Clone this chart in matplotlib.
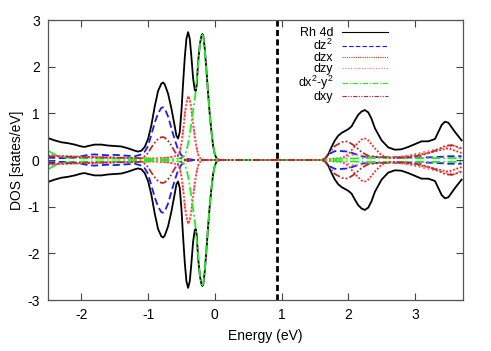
import matplotlib
matplotlib.use("Agg")
import matplotlib.pyplot as plt
import numpy as np

plt.rcParams['font.family'] = ['Liberation Sans', 'DejaVu Sans']
plt.rcParams['mathtext.fontset'] = 'custom'
plt.rcParams['mathtext.rm'] = 'Liberation Sans'
plt.rcParams['mathtext.it'] = 'Liberation Sans'
plt.rcParams['axes.unicode_minus'] = False

# ---------------- data (spin-up; spin-down drawn mirrored) ----------------
# nan = no curve drawn across the empty gap
rh4d_e = [-2.5, -2.4, -2.3, -2.2, -2.1, -2.0, -1.95, -1.9, -1.8, -1.7, -1.6, -1.5, -1.4, -1.3, -1.2, -1.15,
          -1.1, -1.05, -1.0, -0.95, -0.9, -0.85, -0.8, -0.775, -0.75, -0.7, -0.65, -0.6, -0.575, -0.55,
          -0.525, -0.5, -0.475, -0.45, -0.425, -0.4, -0.375, -0.35, -0.325, -0.3, -0.285, -0.27, -0.25,
          -0.225, -0.2, -0.185, -0.17, -0.15, -0.125, -0.1, -0.075, -0.05, -0.025, 0.0, 0.025, 0.05, 0.1,
          1.0, 1.6, 1.65, 1.7, 1.75, 1.8, 1.85, 1.9, 2.0, 2.05, 2.1, 2.15, 2.2, 2.25, 2.3, 2.35, 2.4, 2.5,
          2.6, 2.7, 2.8, 2.9, 3.0, 3.1, 3.2, 3.3, 3.35, 3.4, 3.45, 3.5, 3.55, 3.6, 3.7]
rh4d_v = [0.47, 0.42, 0.38, 0.36, 0.33, 0.29, 0.28, 0.30, 0.33, 0.33, 0.31, 0.30, 0.29, 0.25, 0.20, 0.18,
          0.20, 0.28, 0.45, 0.75, 1.15, 1.48, 1.64, 1.66, 1.62, 1.42, 1.10, 0.72, 0.52, 0.46,
          0.60, 1.05, 1.65, 2.20, 2.60, 2.74, 2.60, 2.20, 1.75, 1.50, 1.48, 1.62, 2.10,
          2.47, 2.66, 2.70, 2.64, 2.38, 1.92, 1.42, 0.97, 0.60, 0.30, 0.12, 0.04, 0.01, 0.0,
          np.nan, 0.0, 0.01, 0.12, 0.28, 0.42, 0.52, 0.58, 0.66, 0.72, 0.85, 0.97, 1.04, 1.07, 1.02, 0.88, 0.68, 0.42,
          0.27, 0.22, 0.23, 0.28, 0.34, 0.40, 0.40, 0.45, 0.60, 0.75, 0.82, 0.80, 0.70, 0.60, 0.42]

dz2_e = [-2.5, -2.3, -2.1, -2.0, -1.9, -1.8, -1.7, -1.6, -1.5, -1.4, -1.3, -1.2, -1.1, -1.05, -1.0, -0.95,
         -0.9, -0.85, -0.8, -0.775, -0.75, -0.7, -0.65, -0.6, -0.55, -0.5, -0.45, -0.4, -0.3, 1.0, 1.6,
         1.65, 1.7, 1.8, 1.9, 2.0, 2.1, 2.2, 2.3, 2.5, 2.8, 3.0, 3.3, 3.5, 3.7]
dz2_v = [0.05, 0.04, 0.05, 0.08, 0.11, 0.12, 0.11, 0.10, 0.11, 0.10, 0.09, 0.08, 0.12, 0.18, 0.30, 0.55,
         0.80, 1.00, 1.12, 1.13, 1.10, 0.93, 0.68, 0.43, 0.22, 0.10, 0.04, 0.02, 0.0, np.nan, 0.0,
         0.02, 0.12, 0.19, 0.19, 0.18, 0.13, 0.08, 0.06, 0.06, 0.06, 0.05, 0.06, 0.08, 0.08]

dzx_e = [-2.5, -2.0, -1.5, -1.1, -0.9, -0.7, -0.6, -0.55, -0.525, -0.5, -0.475, -0.45, -0.425, -0.4,
         -0.375, -0.35, -0.325, -0.3, -0.275, -0.25, -0.225, -0.2, -0.15, 1.0, 1.6, 1.7, 1.9, 2.0, 2.1,
         2.2, 2.26, 2.3, 2.4, 2.5, 2.6, 2.8, 3.0, 3.2, 3.4, 3.5, 3.6, 3.7]
dzx_v = [0.10, 0.07, 0.05, 0.04, 0.03, 0.05, 0.08, 0.10, 0.18, 0.35, 0.62, 0.98, 1.22, 1.36,
         1.30, 1.08, 0.78, 0.50, 0.28, 0.12, 0.05, 0.02, 0.0, 0.0, 0.0, 0.02, 0.04, 0.12, 0.30,
         0.44, 0.46, 0.42, 0.25, 0.10, 0.05, 0.06, 0.10, 0.15, 0.22, 0.25, 0.20, 0.15]

dzy_e = [-2.5, -2.0, -1.5, -1.1, -0.9, -0.7, -0.6, -0.55, -0.525, -0.5, -0.475, -0.45, -0.425, -0.4,
         -0.375, -0.35, -0.325, -0.3, -0.275, -0.25, -0.225, -0.2, -0.15, 1.0, 1.6, 1.7, 1.9, 2.0, 2.1,
         2.2, 2.4, 2.7, 2.9, 3.1, 3.3, 3.5, 3.6, 3.7]
dzy_v = [0.10, 0.07, 0.05, 0.04, 0.03, 0.05, 0.08, 0.10, 0.18, 0.35, 0.62, 0.98, 1.22, 1.36,
         1.30, 1.08, 0.78, 0.50, 0.28, 0.12, 0.05, 0.02, 0.0, 0.0, 0.0, 0.02, 0.03, 0.08, 0.12,
         0.10, 0.05, 0.06, 0.10, 0.16, 0.22, 0.28, 0.30, 0.22]

dx2y2_e = [-2.5, -2.4, -2.3, -2.2, -2.0, -1.8, -1.5, -1.2, -1.0, -0.8, -0.6, -0.5, -0.45, -0.425, -0.4,
           -0.375, -0.35, -0.325, -0.3, -0.275, -0.25, -0.225, -0.2, -0.185, -0.17, -0.15, -0.125, -0.1,
           -0.075, -0.05, -0.025, 0.0, 0.025, 0.05, 0.1, 1.0, 1.6, 1.7, 2.0, 2.5, 3.0, 3.7]
dx2y2_v = [0.20, 0.12, 0.07, 0.05, 0.04, 0.03, 0.03, 0.02, 0.02, 0.01, 0.02, 0.04, 0.10, 0.20, 0.35,
           0.55, 0.80, 1.05, 1.30, 1.65, 2.05, 2.45, 2.65, 2.68, 2.62, 2.35, 1.90, 1.40,
           0.95, 0.60, 0.30, 0.12, 0.04, 0.01, 0.0, 0.0, 0.0, 0.02, 0.03, 0.05, 0.04, 0.04]

dxy_e = [-2.5, -2.0, -1.5, -1.1, -1.05, -1.0, -0.95, -0.9, -0.85, -0.8, -0.775, -0.75, -0.7, -0.65,
         -0.6, -0.55, -0.5, -0.45, -0.4, 1.0, 1.6, 1.65, 1.7, 1.8, 1.9, 1.95, 2.0, 2.1, 2.2, 2.3, 2.5,
         2.7, 2.9, 3.1, 3.3, 3.45, 3.55, 3.7]
dxy_v = [0.08, 0.06, 0.05, 0.04, 0.08, 0.15, 0.27, 0.37, 0.45, 0.49, 0.49, 0.48, 0.41, 0.31,
         0.18, 0.08, 0.03, 0.01, 0.0, 0.0, 0.0, 0.03, 0.13, 0.30, 0.38, 0.40, 0.39, 0.30, 0.17, 0.09, 0.06,
         0.04, 0.06, 0.10, 0.20, 0.30, 0.32, 0.25]

labels = ['Rh 4d', 'dz$^2$', 'dzx', 'dzy', 'dx$^2$-y$^2$', 'dxy']
fermi_level = 0.93

# ---------------- figure ----------------
fig = plt.figure(figsize=(4.91, 3.51), dpi=100)
ax = fig.add_axes([48/491, 1 - 300/351, (463 - 48)/491, (300 - 20)/351])

series = [
    (rh4d_e, rh4d_v, dict(color='black', ls='-', lw=1.3)),
    (dz2_e, dz2_v, dict(color='#1a1aff', ls=(0, (4, 2)), lw=1.3)),
    (dzx_e, dzx_v, dict(color='#ff2020', ls=(0, (1, 1)), lw=1.3)),
    (dzy_e, dzy_v, dict(color='#ff6a6a', ls=(0, (1, 1.5)), lw=1.3)),
    (dx2y2_e, dx2y2_v, dict(color='#22ee22', ls=(0, (5, 1.5, 1, 1.5)), lw=1.3)),
    (dxy_e, dxy_v, dict(color='#b03030', ls=(0, (4, 1.2, 1, 1.2, 1, 1.2)), lw=1.3)),
]
handles = []
for (e, v, st), lab in zip(series, labels):
    e = np.asarray(e); v = np.asarray(v, dtype=float)
    h, = ax.plot(e, v, label=lab, **st)
    ax.plot(e, -v, **st)
    handles.append(h)

ax.axvline(fermi_level, color='black', ls=(0, (2.2, 1.2)), lw=2.0)

ax.set_xlim(-2.5, 3.72)
ax.set_ylim(-3, 3)
ax.set_xticks([-2, -1, 0, 1, 2, 3])
ax.set_yticks([-3, -2, -1, 0, 1, 2, 3])
ax.tick_params(direction='in', top=True, right=True, length=5, width=0.8,
               labelsize=10, color='#444444', pad=6)
for s in ax.spines.values():
    s.set_color('#555555')
    s.set_linewidth(0.9)

ax.set_xlabel('Energy (eV)', fontsize=10)
ax.xaxis.set_label_coords((265 - 48) / 415, -0.105)
ax.set_ylabel('DOS [states/eV]', fontsize=10, labelpad=2)

leg = ax.legend(handles=handles, loc='upper right', bbox_to_anchor=(388/491, 1 - 27/351),
                bbox_transform=fig.transFigure, frameon=False, markerfirst=False,
                fontsize=9, handlelength=3.7, handletextpad=0.7, labelspacing=-0.08,
                borderpad=0, borderaxespad=0)
for l in leg.get_lines():
    l.set_linewidth(0.8)

fig.savefig('out.png', dpi=100)
